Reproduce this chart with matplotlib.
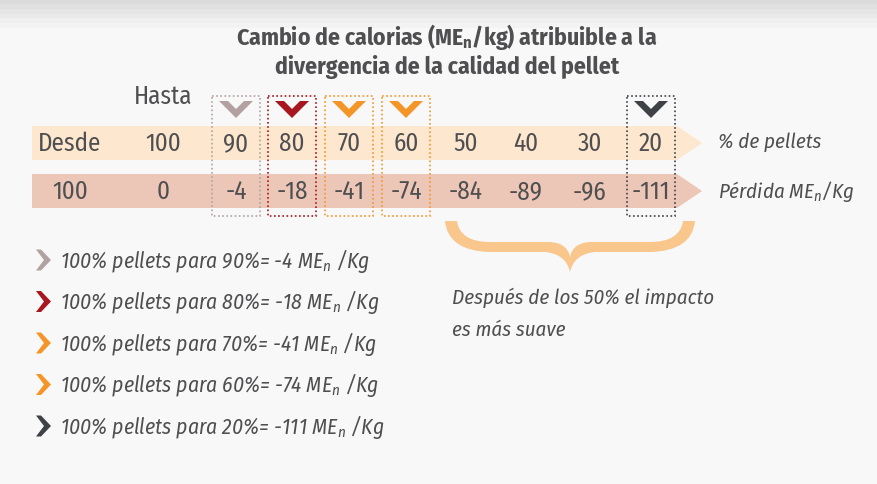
import numpy as np
import matplotlib
matplotlib.use("Agg")
import matplotlib.pyplot as plt
from matplotlib.patches import Polygon, Rectangle, PathPatch
from matplotlib.path import Path

# data
pct_pellets = [100, 90, 80, 70, 60, 50, 40, 30, 20]
loss_men = [0, -4, -18, -41, -74, -84, -89, -96, -111]
highlight_pct = [90, 80, 70, 60, 20]
highlight_colors = ["#B3A1A1", "#A8161F", "#F59528", "#F59528", "#3E4246"]

FONT = "Fira Sans Condensed"
plt.rcParams["font.family"] = [FONT, "DejaVu Sans"]
plt.rcParams["mathtext.fontset"] = "custom"
plt.rcParams["mathtext.rm"] = FONT
plt.rcParams["mathtext.it"] = FONT + ":italic"
plt.rcParams["mathtext.bf"] = FONT + ":bold"

TXT = "#4F4F51"
FS = 18      # table numbers
FS_IT = 15.5  # italic notes

fig = plt.figure(figsize=(8.77, 4.85), dpi=100)
ax = fig.add_axes([0, 0, 1, 1])
ax.set_xlim(0, 877)
ax.set_ylim(485, 0)
ax.axis("off")

# background with a grey shade at the top
grad = np.linspace(0, 1, 100).reshape(-1, 1)
top = np.array([0.86, 0.86, 0.86])
base = np.array([0.975, 0.975, 0.975])
w = np.clip(grad / 0.06, 0, 1)
bg = top * (1 - w[..., None]) + base * w[..., None]
ax.imshow(bg, extent=(0, 877, 485, 0), aspect="auto", zorder=0)

# title
ax.text(447, 37, r"Cambio de calorias (ME$_\mathbf{n}$/kg) atribuible a la",
        ha="center", va="center", fontsize=17, fontweight="bold", color=TXT)
ax.text(447, 67, "divergencia de la calidad del pellet",
        ha="center", va="center", fontsize=17, fontweight="bold", color=TXT)

# arrow bars
x0, x1, tip = 32, 677, 702
for yc, col in [(144, "#FDE7CE"), (192, "#ECC6B6")]:
    ax.add_patch(Polygon([(x0, yc - 17), (x1, yc - 17), (tip, yc), (x1, yc + 17), (x0, yc + 17)],
                         closed=True, fc=col, ec="none", zorder=1))

col_x = [163, 236, 292, 349, 406, 466, 526, 590, 651]
ax.text(163, 97, "Hasta", ha="center", va="center", fontsize=FS, color=TXT)
ax.text(70, 144, "Desde", ha="center", va="center", fontsize=FS, color=TXT, zorder=3)
ax.text(70, 192, "100", ha="center", va="center", fontsize=FS, color=TXT, zorder=3)
for x, p, l in zip(col_x, pct_pellets, loss_men):
    ax.text(x, 144, str(p), ha="center", va="center", fontsize=FS, color=TXT, zorder=3)
    ax.text(x, 192, str(l), ha="center", va="center", fontsize=FS, color=TXT, zorder=3)

ax.text(718, 142, "% de pellets", ha="left", va="center", fontsize=15,
        style="italic", color=TXT)
ax.text(718, 192, r"Pérdida ME$_n$/Kg", ha="left", va="center", fontsize=15,
        style="italic", color=TXT)

# highlighted columns: dotted box + chevron
for p, c in zip(highlight_pct, highlight_colors):
    cx = col_x[pct_pellets.index(p)]
    ax.add_patch(Rectangle((cx - 24, 97), 48, 120, fill=False, ec=c, lw=1.2,
                           ls=(0, (1, 1.5)), zorder=4))
    v = [(-17, 0), (-8, 0), (0, 8), (8, 0), (17, 0), (0, 17)]
    ax.add_patch(Polygon([(cx + a, 102 + b) for a, b in v], closed=True,
                         fc=c, ec="none", zorder=4))

# legend lines
for i, (p, c) in enumerate(zip(highlight_pct, highlight_colors)):
    y = 261 + i * 41.5
    l = loss_men[pct_pellets.index(p)]
    chev = [(36, -10.5), (41, -10.5), (51, 0), (41, 10.5), (36, 10.5), (44, 0)]
    ax.add_patch(Polygon([(a, y + b) for a, b in chev], closed=True, fc=c, ec="none"))
    ax.text(60, y, f"100% pellets para {p}%= {l} ME$_n$ /Kg", ha="left", va="center",
            fontsize=FS_IT, style="italic", color=TXT)

# brace
verts = [
    (445, 222),
    (448, 252), (490, 253),
    (545, 253),
    (566, 255), (570, 273),
    (574, 255), (595, 253),
    (650, 253),
    (692, 252), (695, 222),
    (683, 222),
    (680, 243), (650, 243),
    (592, 243),
    (573, 243), (570, 258),
    (567, 243), (548, 243),
    (490, 243),
    (460, 243), (457, 222),
    (445, 222),
]
codes = [Path.MOVETO,
         Path.CURVE3, Path.CURVE3,
         Path.LINETO,
         Path.CURVE3, Path.CURVE3,
         Path.CURVE3, Path.CURVE3,
         Path.LINETO,
         Path.CURVE3, Path.CURVE3,
         Path.LINETO,
         Path.CURVE3, Path.CURVE3,
         Path.LINETO,
         Path.CURVE3, Path.CURVE3,
         Path.CURVE3, Path.CURVE3,
         Path.LINETO,
         Path.CURVE3, Path.CURVE3,
         Path.CLOSEPOLY]
ax.add_patch(PathPatch(Path(verts, codes), fc="#F9C68C", ec="none", zorder=2))

ax.text(452, 298, "Después de los 50% el impacto", ha="left", va="center",
        fontsize=15, style="italic", color=TXT)
ax.text(452, 330, "es más suave", ha="left", va="center",
        fontsize=15, style="italic", color=TXT)

fig.savefig("out.png", dpi=100)
